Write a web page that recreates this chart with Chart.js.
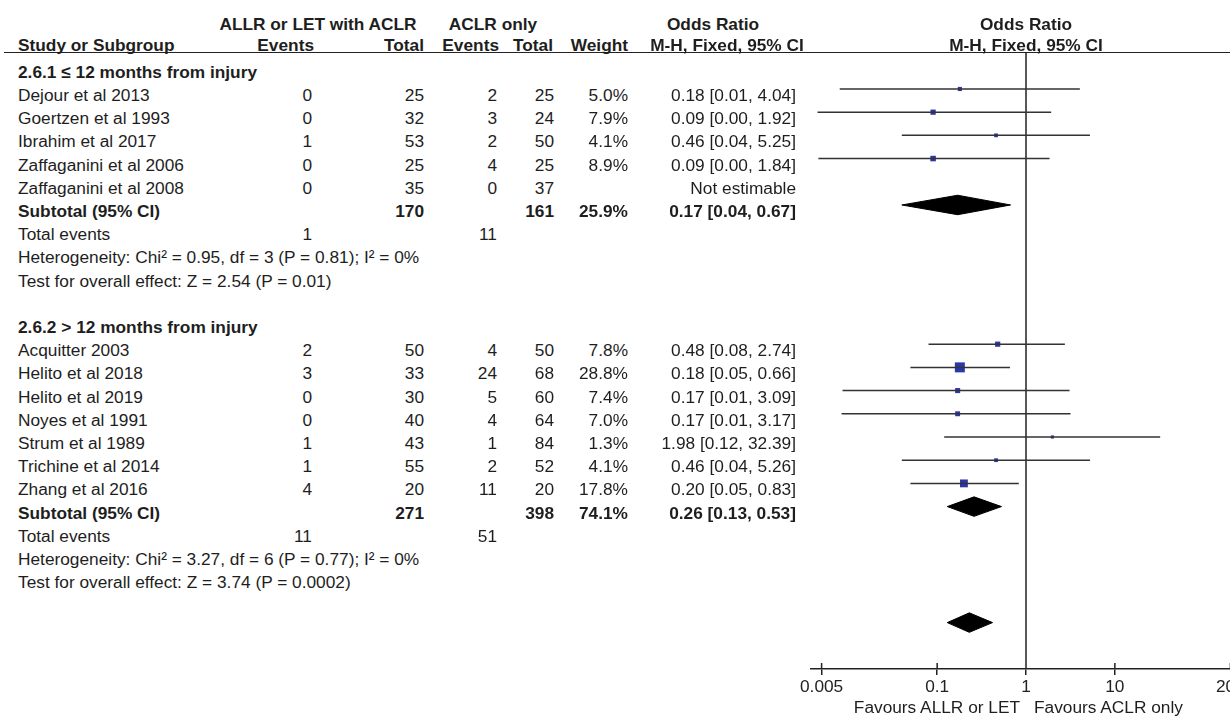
<!DOCTYPE html>
<html>
<head>
<meta charset="utf-8">
<script src="https://cdn.jsdelivr.net/npm/chart.js@4.4.0/dist/chart.umd.min.js"></script>
<style>
  html, body { margin: 0; padding: 0; background: #fff; overflow: hidden; }
  body { width: 1230px; height: 718px; position: relative; }
  #plot { position: absolute; left: 780px; top: 0; }
  .t {
    position: absolute; white-space: nowrap; color: #1e1e1e;
    font-family: 'Liberation Sans', Arial, sans-serif; font-size: 17.3px; line-height: 20px;
  }
  .b { font-weight: bold; }
  .r { transform: translateX(-100%); }
  .c { transform: translateX(-50%); }
  #rule { position: absolute; left: 4px; top: 52px; width: 1230px; border-top: 1.5px solid #222; }
</style>
</head>
<body>
<div id="rule"></div>
<canvas id="plot" width="470" height="718"></canvas>
<script>
// ---- data: 2.6.1 <= 12 months from injury ----
const studies1 = ['Dejour et al 2013', 'Goertzen et al 1993', 'Ibrahim et al 2017', 'Zaffaganini et al 2006', 'Zaffaganini et al 2008'];
const expEvents1 = [0, 0, 1, 0, 0];
const expTotal1 = [25, 32, 53, 25, 35];
const ctlEvents1 = [2, 3, 2, 4, 0];
const ctlTotal1 = [25, 24, 50, 25, 37];
const weight1 = ['5.0%', '7.9%', '4.1%', '8.9%', ''];
const orText1 = ['0.18 [0.01, 4.04]', '0.09 [0.00, 1.92]', '0.46 [0.04, 5.25]', '0.09 [0.00, 1.84]', 'Not estimable'];
const orVal1 = [0.18, 0.09, 0.46, 0.09, null];
const ciLow1 = [0.008, 0.0045, 0.04, 0.0046, null];
const ciHigh1 = [4.04, 1.92, 5.25, 1.84, null];
const subtotal1 = { expTotal: 170, ctlTotal: 161, weight: '25.9%', text: '0.17 [0.04, 0.67]', or: 0.17, lo: 0.04, hi: 0.67 };
const events1 = [1, 11];
const het1 = 'Heterogeneity: Chi\u00b2 = 0.95, df = 3 (P = 0.81); I\u00b2 = 0%';
const test1 = 'Test for overall effect: Z = 2.54 (P = 0.01)';

// ---- data: 2.6.2 > 12 months from injury ----
const studies2 = ['Acquitter 2003', 'Helito et al 2018', 'Helito et al 2019', 'Noyes et al 1991', 'Strum et al 1989', 'Trichine et al 2014', 'Zhang et al 2016'];
const expEvents2 = [2, 3, 0, 0, 1, 1, 4];
const expTotal2 = [50, 33, 30, 40, 43, 55, 20];
const ctlEvents2 = [4, 24, 5, 4, 1, 2, 11];
const ctlTotal2 = [50, 68, 60, 64, 84, 52, 20];
const weight2 = ['7.8%', '28.8%', '7.4%', '7.0%', '1.3%', '4.1%', '17.8%'];
const orText2 = ['0.48 [0.08, 2.74]', '0.18 [0.05, 0.66]', '0.17 [0.01, 3.09]', '0.17 [0.01, 3.17]', '1.98 [0.12, 32.39]', '0.46 [0.04, 5.26]', '0.20 [0.05, 0.83]'];
const orVal2 = [0.48, 0.18, 0.17, 0.17, 1.98, 0.46, 0.20];
const ciLow2 = [0.08, 0.05, 0.0086, 0.0084, 0.12, 0.04, 0.05];
const ciHigh2 = [2.74, 0.66, 3.09, 3.17, 32.39, 5.26, 0.83];
const subtotal2 = { expTotal: 271, ctlTotal: 398, weight: '74.1%', text: '0.26 [0.13, 0.53]', or: 0.26, lo: 0.13, hi: 0.53 };
const events2 = [11, 51];
const het2 = 'Heterogeneity: Chi\u00b2 = 3.27, df = 6 (P = 0.77); I\u00b2 = 0%';
const test2 = 'Test for overall effect: Z = 3.74 (P = 0.0002)';

// overall
const overall = { or: 0.23, lo: 0.13, hi: 0.42 };

const tickValues = [0.005, 0.1, 1, 10, 200];

const groups = [
  { title: '2.6.1 \u2264 12 months from injury', start: 0, studies: studies1, e1: expEvents1, t1: expTotal1, e2: ctlEvents1, t2: ctlTotal1,
    w: weight1, txt: orText1, or: orVal1, lo: ciLow1, hi: ciHigh1, sub: subtotal1, ev: events1, het: het1, test: test1 },
  { title: '2.6.2 > 12 months from injury', start: 11, studies: studies2, e1: expEvents2, t1: expTotal2, e2: ctlEvents2, t2: ctlTotal2,
    w: weight2, txt: orText2, or: orVal2, lo: ciLow2, hi: ciHigh2, sub: subtotal2, ev: events2, het: het2, test: test2 }
];
const overallRow = 24;
const diamondHalf = 0.42;

// build datasets
const datasets = [];
const squares = [];
const sizes = [];
const diamond = (d, row) => ({
  data: [{x: d.lo, y: row}, {x: d.or, y: row - diamondHalf}, {x: d.hi, y: row}, {x: d.or, y: row + diamondHalf}, {x: d.lo, y: row}],
  showLine: true, fill: 'shape', backgroundColor: '#000', borderColor: '#000', borderWidth: 1, pointRadius: 0
});
groups.forEach(g => {
  g.studies.forEach((s, i) => {
    if (g.or[i] == null) return;
    const row = g.start + 1 + i;
    datasets.push({
      data: [{x: g.lo[i], y: row}, {x: g.hi[i], y: row}],
      showLine: true, borderColor: '#333', borderWidth: 1.5, pointRadius: 0
    });
    squares.push({x: g.or[i], y: row});
    const side = Math.max(3.2, 1.86 * Math.sqrt(parseFloat(g.w[i])));
    sizes.push(side / Math.SQRT2);
  });
  datasets.push(diamond(g.sub, g.start + 1 + g.studies.length));
});
datasets.push(diamond(overall, overallRow));
datasets.push({ data: squares, pointStyle: 'rect', pointRadius: sizes, backgroundColor: '#2d36a8', borderWidth: 0 });

const refLine = {
  id: 'refLine',
  beforeDatasetsDraw(chart) {
    const {ctx, chartArea, scales: {x}} = chart;
    ctx.save();
    ctx.strokeStyle = '#222';
    ctx.lineWidth = 1.5;
    ctx.beginPath();
    const px = x.getPixelForValue(1);
    ctx.moveTo(px, chartArea.top);
    ctx.lineTo(px, chartArea.bottom);
    tickValues.forEach(v => {
      const tx = x.getPixelForValue(v);
      ctx.moveTo(tx, chartArea.bottom - 6);
      ctx.lineTo(tx, chartArea.bottom);
    });
    ctx.stroke();
    ctx.restore();
  }
};

const chart = new Chart(document.getElementById('plot').getContext('2d'), {
  type: 'scatter',
  data: { datasets: datasets },
  plugins: [refLine],
  options: {
    responsive: false,
    animation: false,
    layout: { padding: { left: 31, top: 53, right: 8, bottom: 0 } },
    plugins: { legend: { display: false }, tooltip: { enabled: false } },
    scales: {
      x: {
        type: 'logarithmic', min: 0.0038, max: 270,
        afterBuildTicks: (scale) => { scale.ticks = tickValues.map(v => ({ value: v })); },
        afterFit: (scale) => { scale.height = 49; },
        grid: { drawOnChartArea: false, drawTicks: true, tickLength: 6, color: '#222', lineWidth: 1.5 },
        border: { display: true, color: '#222', width: 1.5 },
        ticks: {
          autoSkip: false, maxRotation: 0, padding: 2, color: '#222',
          font: { family: "'Liberation Sans', Arial, sans-serif", size: 17.3 },
          callback: (v) => String(v)
        }
      },
      y: { type: 'linear', min: -0.55, max: 26, reverse: true, display: false }
    }
  }
});

// ---- table text, aligned to the chart's rows ----
const CANVAS_LEFT = 780;
const ys = chart.scales.y;
const xs = chart.scales.x;
const addText = (str, x, baseline, align, bold) => {
  const el = document.createElement('div');
  el.className = 't' + (bold ? ' b' : '') + (align === 'right' ? ' r' : align === 'center' ? ' c' : '');
  el.textContent = str;
  el.style.left = x + 'px';
  el.style.top = (baseline - 16) + 'px';
  document.body.appendChild(el);
};
const base = (row) => ys.getPixelForValue(row) + 12;

const COL = { name: 18, e1: 312, t1: 424, e2: 497, t2: 554, w: 628, or: 796 };

// headers
addText('ALLR or LET with ACLR', 318, 29.5, 'center', true);
addText('ACLR only', 493, 29.5, 'center', true);
addText('Odds Ratio', 713, 29.5, 'center', true);
addText('Study or Subgroup', COL.name, 51, 'left', true);
addText('Events', 314, 51, 'right', true);
addText('Total', COL.t1, 51, 'right', true);
addText('Events', 499, 51, 'right', true);
addText('Total', 553, 51, 'right', true);
addText('Weight', COL.w, 51, 'right', true);
addText('M-H, Fixed, 95% CI', 727, 51, 'center', true);
const oneX = CANVAS_LEFT + xs.getPixelForValue(1);
addText('Odds Ratio', oneX, 29.5, 'center', true);
addText('M-H, Fixed, 95% CI', oneX, 51, 'center', true);

groups.forEach(g => {
  addText(g.title, COL.name, base(g.start), 'left', true);
  g.studies.forEach((s, i) => {
    const b = base(g.start + 1 + i);
    addText(s, COL.name, b, 'left', false);
    addText(String(g.e1[i]), COL.e1, b, 'right', false);
    addText(String(g.t1[i]), COL.t1, b, 'right', false);
    addText(String(g.e2[i]), COL.e2, b, 'right', false);
    addText(String(g.t2[i]), COL.t2, b, 'right', false);
    if (g.w[i]) addText(g.w[i], COL.w, b, 'right', false);
    addText(g.txt[i], COL.or, b, 'right', false);
  });
  let r = g.start + 1 + g.studies.length;
  let b = base(r);
  addText('Subtotal (95% CI)', COL.name, b, 'left', true);
  addText(String(g.sub.expTotal), COL.t1, b, 'right', true);
  addText(String(g.sub.ctlTotal), COL.t2, b, 'right', true);
  addText(g.sub.weight, COL.w, b, 'right', true);
  addText(g.sub.text, COL.or, b, 'right', true);
  b = base(r + 1);
  addText('Total events', COL.name, b, 'left', false);
  addText(String(g.ev[0]), COL.e1, b, 'right', false);
  addText(String(g.ev[1]), COL.e2, b, 'right', false);
  addText(g.het, COL.name, base(r + 2), 'left', false);
  addText(g.test, COL.name, base(r + 3), 'left', false);
});

// favours labels under the axis
addText('Favours ALLR or LET', oneX - 6, 713, 'right', false);
addText('Favours ACLR only', oneX + 8, 713, 'left', false);
</script>
</body>
</html>
